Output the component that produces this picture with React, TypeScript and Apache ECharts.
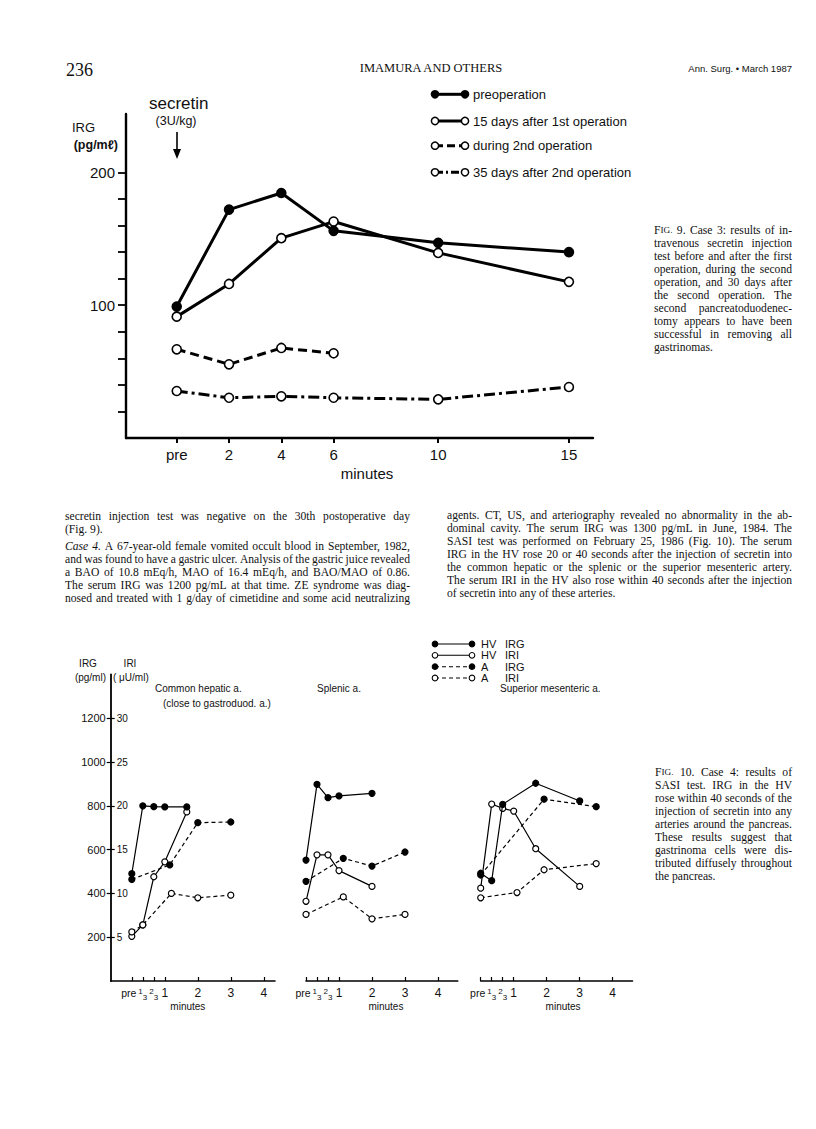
import React, { useEffect, useRef } from 'react';
import * as echarts from 'echarts';

// ---------- Fig. 9 data ----------
const fig9Minutes = [0, 2, 4, 6, 10, 15];
const preoperationIRG = [99, 172, 184.5, 156, 147, 140];
const after1stOpIRG = [91.4, 116, 150.5, 163, 139.4, 117.6];
const during2ndMinutes = [0, 2, 4, 6];
const during2ndOpIRG = [66.8, 55.5, 67.8, 63.8];
const after2ndOpIRG = [35.4, 30.3, 31.4, 30.3, 29.1, 38.4];
const fig9TickValues = [20, 40, 60, 80, 100, 120, 140, 160, 180, 200];
const fig9LabelValues = [100, 200];
const fig9LegendLabels = ['preoperation', '15 days after 1st operation', 'during 2nd operation', '35 days after 2nd operation'];

// ---------- Fig. 10 data ([minutes, value]) ----------
const fig10Ticks = [0, 1 / 3, 2 / 3, 1, 2, 3, 4];
const irgTicks = [200, 400, 600, 800, 1000, 1200];
const iriTicks = [5, 10, 15, 20, 25, 30];
const panelTitles = ['Common hepatic a.', 'Splenic a.', 'Superior mesenteric a.'];
const fig10LegendLabels = [['HV', 'IRG'], ['HV', 'IRI'], ['A', 'IRG'], ['A', 'IRI']];

const hepaticHvIrg = [[0, 490], [1 / 3, 800], [2 / 3, 796], [1, 795], [5 / 3, 795]];
const hepaticHvIri = [[0, 5.1], [1 / 3, 6.4], [2 / 3, 11.9], [1, 13.6], [5 / 3, 19.3]];
const hepaticAIrg = [[0, 464], [1.15, 530], [2, 723], [3, 726]];
const hepaticAIri = [[0, 5.6], [1 / 3, 6.4], [1.2, 10], [2, 9.5], [3, 9.8]];

const splenicHvIrg = [[0, 552], [1 / 3, 898], [2 / 3, 837], [1, 845], [2, 857]];
const splenicHvIri = [[0, 9.1], [1 / 3, 14.4], [2 / 3, 14.4], [1, 12.6], [2, 10.8]];
const splenicAIrg = [[0, 455], [1.13, 560], [2, 525], [3, 589]];
const splenicAIri = [[0, 7.6], [1.13, 9.6], [2, 7.1], [3, 7.6]];

const smaHvIrg = [[0, 492], [1 / 3, 458], [2 / 3, 807], [5 / 3, 903], [3, 822]];
const smaHvIri = [[0, 10.6], [1 / 3, 20.2], [2 / 3, 19.7], [1, 19.4], [5 / 3, 15.1], [3, 10.8]];
const smaAIrg = [[0, 484], [1.92, 830], [3.5, 796]];
const smaAIri = [[0, 9.5], [1.1, 10.1], [1.92, 12.7], [3.5, 13.4]];

// ---------- page text ----------
const leftColumn = [
  'secretin injection test was negative on the 30th postoperative day',
  '(Fig. 9).',
  'Case 4. A 67-year-old female vomited occult blood in September, 1982,',
  'and was found to have a gastric ulcer. Analysis of the gastric juice revealed',
  'a BAO of 10.8 mEq/h, MAO of 16.4 mEq/h, and BAO/MAO of 0.86.',
  'The serum IRG was 1200 pg/mL at that time. ZE syndrome was diag-',
  'nosed and treated with 1 g/day of cimetidine and some acid neutralizing',
];
const rightColumn = [
  'agents. CT, US, and arteriography revealed no abnormality in the ab-',
  'dominal cavity. The serum IRG was 1300 pg/mL in June, 1984. The',
  'SASI test was performed on February 25, 1986 (Fig. 10). The serum',
  'IRG in the HV rose 20 or 40 seconds after the injection of secretin into',
  'the common hepatic or the splenic or the superior mesenteric artery.',
  'The serum IRI in the HV also rose within 40 seconds after the injection',
  'of secretin into any of these arteries.',
];
const fig9Caption = [
  'FIG. 9. Case 3: results of in-',
  'travenous secretin injection',
  'test before and after the first',
  'operation, during the second',
  'operation, and 30 days after',
  'the second operation. The',
  'second pancreatoduodenec-',
  'tomy appears to have been',
  'successful in removing all',
  'gastrinomas.',
];
const fig10Caption = [
  'FIG. 10. Case 4: results of',
  'SASI test. IRG in the HV',
  'rose within 40 seconds of the',
  'injection of secretin into any',
  'arteries around the pancreas.',
  'These results suggest that',
  'gastrinoma cells were dis-',
  'tributed diffusely throughout',
  'the pancreas.',
];

const SANS = '"Liberation Sans", Arial, sans-serif';
const SERIF = '"Liberation Serif", "Times New Roman", serif';
const INK = '#111';
const BODY = 11.6;
const SC = 9.2;

function txt(text: string, x: number, y: number, o: any = {}) {
  return {
    type: 'text',
    x,
    y,
    silent: true,
    style: {
      text,
      fill: INK,
      fontSize: o.size || BODY,
      fontFamily: o.family || SERIF,
      fontWeight: o.weight || 'normal',
      fontStyle: o.style || 'normal',
      align: o.align || 'left',
      verticalAlign: 'middle',
      rich: o.rich,
    },
  };
}

const scRich = {
  b: { fontSize: BODY, fontFamily: SERIF },
  s: { fontSize: SC, fontFamily: SERIF },
};

function App() {
  const ref = useRef<HTMLDivElement>(null);

  useEffect(() => {
    if (!ref.current) return;
    const chart = echarts.init(ref.current, null, { renderer: 'svg' });

    // ---- text justification helpers ----
    const ctx = document.createElement('canvas').getContext('2d') as CanvasRenderingContext2D;
    const measure = (s: string, size: number, italic = false) => {
      ctx.font = (italic ? 'italic ' : '') + size + 'px ' + SERIF;
      return ctx.measureText(s).width;
    };
    const wordWidth = (w: string, kind: string) => {
      if (kind === 'sc') return measure(w[0], BODY) + measure(w.slice(1), SC);
      return measure(w, BODY, kind === 'it');
    };
    const graphics: any[] = [];
    const setLine = (line: string, x0: number, width: number, y: number, justify: boolean, italicCount = 0) => {
      const words = line.split(' ');
      const kinds = words.map((w, i) => (i < italicCount ? 'it' : w === 'FIG.' ? 'sc' : 'n'));
      const widths = words.map((w, i) => wordWidth(w, kinds[i]));
      const total = widths.reduce((a, b) => a + b, 0);
      const space = measure(' ', BODY);
      const gap = justify && words.length > 1 ? Math.max((width - total) / (words.length - 1), space * 0.6) : space;
      let x = x0;
      words.forEach((w, i) => {
        if (kinds[i] === 'sc') {
          graphics.push(txt('{b|' + w[0] + '}{s|' + w.slice(1) + '}', x, y, { rich: scRich }));
        } else {
          graphics.push(txt(w, x, y, { style: kinds[i] === 'it' ? 'italic' : 'normal' }));
        }
        x += widths[i] + gap;
      });
    };

    const fig9Pairs = (ys: number[], xs: number[]) => ys.map((v, i) => [xs[i], v]);

    const fig9Series = [
      { name: 'preoperation', data: fig9Pairs(preoperationIRG, fig9Minutes), filled: true, type: 'solid' },
      { name: '15 days after 1st operation', data: fig9Pairs(after1stOpIRG, fig9Minutes), filled: false, type: 'solid' },
      { name: 'during 2nd operation', data: fig9Pairs(during2ndOpIRG, during2ndMinutes), filled: false, type: [9, 5] },
      { name: '35 days after 2nd operation', data: fig9Pairs(after2ndOpIRG, fig9Minutes), filled: false, type: [11, 4, 3, 4] },
    ].map((s) => ({
      type: 'line',
      name: s.name,
      xAxisIndex: 0,
      yAxisIndex: 0,
      data: s.data,
      symbol: 'circle',
      symbolSize: 9,
      lineStyle: { color: '#000', width: 3, type: s.type },
      itemStyle: { color: s.filled ? '#000' : '#fff', borderColor: '#000', borderWidth: 1.6 },
      z: s.filled ? 4 : 3,
    }));

    const panels = [
      [hepaticHvIrg, hepaticHvIri, hepaticAIrg, hepaticAIri],
      [splenicHvIrg, splenicHvIri, splenicAIrg, splenicAIri],
      [smaHvIrg, smaHvIri, smaAIrg, smaAIri],
    ];
    const kinds = [
      { filled: true, dash: 'solid', iri: false, n: 'HV IRG' },
      { filled: false, dash: 'solid', iri: true, n: 'HV IRI' },
      { filled: true, dash: [4, 3], iri: false, n: 'A IRG' },
      { filled: false, dash: [4, 3], iri: true, n: 'A IRI' },
    ];
    const fig10Series: any[] = [];
    panels.forEach((p, pi) => {
      p.forEach((d, k) => {
        const kd = kinds[k];
        fig10Series.push({
          type: 'line',
          name: panelTitles[pi] + ' ' + kd.n,
          xAxisIndex: pi + 1,
          yAxisIndex: 1 + pi * 2 + (kd.iri ? 1 : 0),
          data: d,
          symbol: 'circle',
          symbolSize: 6,
          lineStyle: { color: '#000', width: 1.2, type: kd.dash },
          itemStyle: { color: kd.filled ? '#000' : '#fff', borderColor: '#000', borderWidth: 1.2 },
          z: kd.filled ? 4 : 3,
        });
      });
    });

    const grid10 = { top: 674.4, height: 306.6 };
    const fig10X = (gi: number, min: number, max: number, pad: number[]) => ({
      type: 'value',
      gridIndex: gi,
      min,
      max,
      splitLine: { show: false },
      axisLine: { show: true, onZero: false, lineStyle: { color: '#000', width: 1.6 } },
      axisTick: { show: true, inside: true, length: 4, customValues: fig10Ticks, lineStyle: { color: '#000', width: 1.2 } },
      axisLabel: {
        show: true,
        customValues: fig10Ticks,
        hideOverlap: false,
        showMinLabel: true,
        showMaxLabel: true,
        margin: 6,
        color: INK,
        fontFamily: SANS,
        fontSize: 12,
        formatter: (v: number) => {
          if (Math.abs(v) < 1e-6) return '{p|pre}';
          if (Math.abs(v - 1 / 3) < 1e-6) return '{u|1}{d|3}';
          if (Math.abs(v - 2 / 3) < 1e-6) return '{u|2}{d|3}';
          return String(Math.round(v));
        },
        rich: {
          p: { fontSize: 10.5, fontFamily: SANS, color: INK, padding: [0, 6, 0, 0] },
          u: { fontSize: 8, fontFamily: SANS, color: INK, padding: [0, 0, 6, 0] },
          d: { fontSize: 8, fontFamily: SANS, color: INK, padding: [6, 0, 0, 0] },
        },
      },
      name: 'minutes',
      nameLocation: 'middle',
      nameGap: 19,
      nameTextStyle: { fontFamily: SANS, fontSize: 10, color: INK, padding: pad },
    });
    const hiddenY = (gi: number, max: number) => ({ type: 'value', gridIndex: gi, min: 0, max, show: false });

    // header
    graphics.push(txt('236', 66, 70, { size: 18 }));
    graphics.push(txt('IMAMURA AND OTHERS', 431, 68, { size: 12.5, align: 'center' }));
    graphics.push(txt('Ann. Surg. • March 1987', 792, 68, { size: 9.5, family: SANS, align: 'right' }));

    // Fig 9 annotations
    graphics.push(txt('secretin', 149, 103, { size: 17, family: SANS }));
    graphics.push(txt('(3U/kg)', 176, 121, { size: 12.5, family: SANS, align: 'center' }));
    graphics.push({ type: 'line', silent: true, shape: { x1: 177, y1: 132, x2: 177, y2: 152 }, style: { stroke: '#000', lineWidth: 1.6 } });
    graphics.push({ type: 'polygon', silent: true, shape: { points: [[173, 149], [181, 149], [177, 159]] }, style: { fill: '#000' } });
    graphics.push(txt('IRG', 72, 127, { size: 13, family: SANS }));
    graphics.push(txt('(pg/mℓ)', 118, 145, { size: 12.5, family: SANS, align: 'right', weight: 'bold' }));

    // Fig 9 legend
    const legY = [94.3, 121, 145.7, 172.3];
    const legDash: any[] = ['solid', 'solid', [8, 4], [8, 3, 2, 3]];
    legY.forEach((y, i) => {
      graphics.push({ type: 'line', silent: true, shape: { x1: 435, y1: y, x2: 465, y2: y }, style: { stroke: '#000', lineWidth: 3, lineDash: legDash[i] === 'solid' ? null : legDash[i] } });
      [435, 465].forEach((cx) => {
        graphics.push({ type: 'circle', silent: true, shape: { cx, cy: y, r: 3.6 }, style: { fill: i === 0 ? '#000' : '#fff', stroke: '#000', lineWidth: 1.5 } });
      });
      graphics.push(txt(fig9LegendLabels[i], 473, y, { size: 13, family: SANS }));
    });

    // Fig 9 caption
    fig9Caption.forEach((line, i) => setLine(line, 654, 138, 230 + i * 13, i < fig9Caption.length - 1));

    // body columns
    const leftY = [516, 529, 546.5, 559.5, 572.5, 585.5, 598];
    leftColumn.forEach((line, i) => setLine(line, 65, 345, leftY[i], i !== 1, i === 2 ? 2 : 0));
    rightColumn.forEach((line, i) => setLine(line, 447, 345, 515 + i * 13, i < rightColumn.length - 1));

    // Fig 10 labels
    graphics.push(txt('IRG', 88, 663, { size: 10, family: SANS, align: 'center' }));
    graphics.push(txt('(pg/ml)', 106, 677, { size: 10, family: SANS, align: 'right' }));
    graphics.push(txt('IRI', 130, 663, { size: 10, family: SANS, align: 'center' }));
    graphics.push(txt('( μU/ml)', 113, 677, { size: 10, family: SANS }));
    graphics.push(txt(panelTitles[0], 155, 688, { size: 10, family: SANS }));
    graphics.push(txt('(close to gastroduod. a.)', 163, 703, { size: 10, family: SANS }));
    graphics.push(txt(panelTitles[1], 317, 688, { size: 10, family: SANS }));
    graphics.push(txt(panelTitles[2], 500, 688, { size: 10, family: SANS }));

    // Fig 10 legend
    const leg10Y = [644, 655.3, 666.7, 678];
    leg10Y.forEach((y, i) => {
      graphics.push({ type: 'line', silent: true, shape: { x1: 435, y1: y, x2: 472, y2: y }, style: { stroke: '#000', lineWidth: 1.1, lineDash: i >= 2 ? [4, 3] : null } });
      [435, 472].forEach((cx) => {
        graphics.push({ type: 'circle', silent: true, shape: { cx, cy: y, r: 2.8 }, style: { fill: i % 2 === 0 ? '#000' : '#fff', stroke: '#000', lineWidth: 1.1 } });
      });
      graphics.push(txt(fig10LegendLabels[i][0], 481, y, { size: 11, family: SANS }));
      graphics.push(txt(fig10LegendLabels[i][1], 505, y, { size: 11, family: SANS }));
    });

    // Fig 10 caption
    fig10Caption.forEach((line, i) => setLine(line, 655, 137, 772 + i * 13, i < fig10Caption.length - 1));

    const option: any = {
      animation: false,
      backgroundColor: '#fff',
      grid: [
        { left: 126, top: 114, width: 467, height: 324 },
        { left: 110.7, width: 164.3, ...grid10 },
        { left: 306, width: 151.8, ...grid10 },
        { left: 480.7, width: 151.8, ...grid10 },
      ],
      xAxis: [
        {
          type: 'value',
          gridIndex: 0,
          min: -1.94,
          max: 15.92,
          splitLine: { show: false },
          axisLine: { show: true, onZero: false, lineStyle: { color: '#000', width: 2.4 } },
          axisTick: { show: true, length: 5, customValues: fig9Minutes, lineStyle: { color: '#000', width: 2 } },
          axisLabel: {
            customValues: fig9Minutes,
            hideOverlap: false,
            margin: 9,
            color: INK,
            fontFamily: SANS,
            fontSize: 15,
            formatter: (v: number) => (v === 0 ? 'pre' : String(v)),
          },
          name: 'minutes',
          nameLocation: 'middle',
          nameGap: 28,
          nameTextStyle: { fontFamily: SANS, fontSize: 15, color: INK, padding: [0, 0, 0, 15] },
        },
        fig10X(1, -0.64, 4.34, [0, 10, 0, 0]),
        fig10X(2, 0, 4.6, [0, 0, 0, 8]),
        fig10X(3, 0, 4.6, [0, 0, 0, 13]),
      ],
      yAxis: [
        {
          type: 'value',
          gridIndex: 0,
          position: 'left',
          min: 0,
          max: 244,
          splitLine: { show: false },
          axisLine: { show: true, onZero: false, lineStyle: { color: '#000', width: 2.4 } },
          axisTick: { show: true, length: 8, customValues: fig9TickValues, lineStyle: { color: '#000', width: 1.8 } },
          axisLabel: { customValues: fig9LabelValues, margin: 11, color: INK, fontFamily: SANS, fontSize: 15, formatter: (v: number) => String(v) },
        },
        {
          type: 'value',
          gridIndex: 1,
          position: 'left',
          min: 0,
          max: 1400,
          splitLine: { show: false },
          axisLine: { show: true, onZero: false, lineStyle: { color: '#000', width: 1.8 } },
          axisTick: { show: true, length: 4, customValues: irgTicks, lineStyle: { color: '#000', width: 1.2 } },
          axisLabel: { customValues: irgTicks, margin: 5, color: INK, fontFamily: SANS, fontSize: 11, formatter: (v: number) => String(v) },
        },
        {
          type: 'value',
          gridIndex: 1,
          position: 'left',
          offset: 0,
          min: 0,
          max: 35,
          splitLine: { show: false },
          axisLine: { show: false, onZero: false },
          axisTick: { show: true, inside: true, length: 4, customValues: iriTicks, lineStyle: { color: '#000', width: 1.2 } },
          axisLabel: { inside: true, customValues: iriTicks, margin: 6, color: INK, fontFamily: SANS, fontSize: 10, formatter: (v: number) => String(v) },
        },
        hiddenY(2, 1400),
        hiddenY(2, 35),
        hiddenY(3, 1400),
        hiddenY(3, 35),
      ],
      series: [...fig9Series, ...fig10Series],
      graphic: graphics,
    };

    chart.setOption(option);
    return () => chart.dispose();
  }, []);

  return (
    <div
      ref={ref}
      style={{ position: 'absolute', left: 0, top: 0, width: 816, height: 1129, background: '#fff' }}
    />
  );
}

export default App;
